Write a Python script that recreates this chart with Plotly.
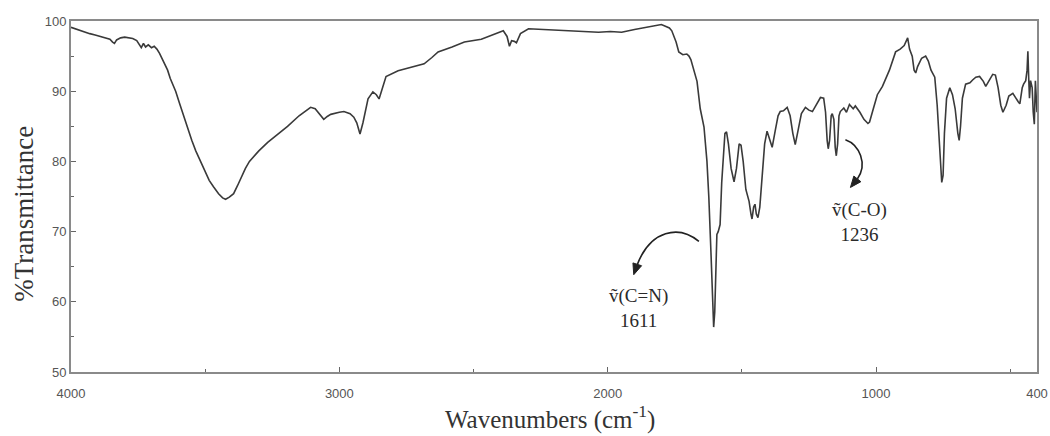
import plotly.graph_objects as go

# ---- data ----
wavenumber = [
    4000, 3985, 3970, 3950, 3930, 3910, 3890, 3870, 3855, 3845, 3838, 3830, 3815, 3800,
    3785, 3770, 3755, 3745, 3738, 3730, 3722, 3712, 3700, 3690, 3680, 3670, 3660, 3650,
    3640, 3630, 3620, 3610, 3595, 3580, 3566, 3550, 3535, 3518, 3500, 3485, 3469, 3450,
    3435, 3424, 3410, 3394, 3380, 3365, 3350, 3335, 3320, 3300, 3267, 3230, 3193, 3150,
    3120, 3107, 3090, 3070, 3058, 3045, 3032, 3000, 2983, 2960, 2946, 2935, 2923, 2912,
    2900, 2893, 2875, 2862, 2852, 2840, 2826, 2781, 2730, 2684, 2655, 2632, 2580, 2534,
    2471, 2420, 2389, 2375, 2366, 2358, 2348, 2340, 2325, 2295, 2230, 2161, 2100, 2034,
    1990, 1948, 1900, 1860, 1824, 1800, 1787, 1770, 1761, 1745, 1735, 1720, 1705, 1697,
    1690, 1679, 1667, 1655, 1641, 1630, 1623, 1615, 1611, 1608, 1605, 1601, 1597, 1593,
    1588, 1581, 1575, 1568, 1563, 1557, 1550, 1540, 1529, 1520, 1510, 1503, 1495, 1485,
    1473, 1466, 1462, 1456, 1451, 1446, 1440, 1433, 1425, 1415, 1406, 1396, 1387, 1375,
    1365, 1357, 1345, 1331, 1320, 1310, 1301, 1290, 1278, 1263, 1250, 1237, 1222, 1207,
    1195, 1188, 1182, 1178, 1173, 1167, 1163, 1157, 1152, 1148, 1143, 1138, 1133, 1120,
    1110, 1099, 1085, 1077, 1060, 1045, 1030, 1024, 1010, 995, 976, 950, 927, 910,
    895, 882, 875, 865, 858, 852, 845, 830, 815, 805, 795, 781, 772, 763,
    755, 750, 745, 737, 725, 715, 705, 695, 690, 685, 678, 666, 650, 640,
    628, 614, 600, 591, 578, 565, 555, 545, 535, 527, 515, 505, 490, 480,
    470, 464, 455, 450, 442, 437, 434, 431, 428, 424, 418, 414, 410, 406,
    403, 400,
]
transmittance = [
    99.1, 98.9, 98.7, 98.4, 98.2, 98.0, 97.8, 97.6, 97.4, 97.0, 96.8, 97.3, 97.6, 97.7,
    97.6, 97.5, 97.2, 96.6, 96.2, 96.8, 96.3, 96.6, 96.2, 96.4, 96.0, 95.4, 94.6, 93.6,
    93.0, 91.8, 90.8, 90.0, 88.2, 86.4, 84.9, 83.0, 81.5, 80.0, 78.5, 77.3, 76.4, 75.4,
    74.8, 74.6, 74.9, 75.4, 76.5, 77.8, 79.0, 80.0, 80.7, 81.5, 82.7, 83.8, 85.0, 86.5,
    87.4, 87.7, 87.5, 86.6, 86.0, 86.4, 86.7, 87.0, 87.1, 86.8, 86.3, 85.5, 83.9, 85.5,
    88.0, 88.9, 89.9, 89.5, 88.9, 90.5, 92.1, 92.9, 93.4, 93.9, 94.8, 95.6, 96.3, 97.0,
    97.4, 98.1, 98.6, 97.8, 96.4, 97.2, 97.1, 96.9, 98.2, 98.9, 98.8, 98.7, 98.5, 98.4,
    98.5, 98.4, 98.8, 99.1, 99.4, 99.5, 99.3, 99.0, 98.6, 97.0, 95.6, 95.2, 95.3, 95.0,
    94.5, 93.1, 91.4, 87.5, 84.9, 80.0, 74.9, 67.0, 62.9, 58.0, 56.4, 58.5, 65.0, 69.6,
    70.0, 71.0, 77.0, 82.0, 84.0, 84.2, 82.5, 79.0, 77.1, 79.0, 82.5, 82.3, 80.0, 76.0,
    74.3, 72.5, 71.8, 73.5, 73.9, 72.5, 72.0, 73.5, 78.0, 82.5, 84.3, 83.0, 82.0, 84.5,
    86.5, 87.1, 87.2, 87.7, 86.5, 84.0, 82.4, 84.5, 86.8, 87.7, 87.3, 87.1, 88.0, 89.1,
    89.0, 87.0, 83.0, 81.8, 83.0, 86.5, 86.8, 86.0, 82.0, 80.8, 82.5, 86.5, 87.1, 87.6,
    87.0, 88.1, 87.5, 87.9, 87.0, 86.0, 85.4, 85.6, 87.5, 89.5, 90.7, 93.0, 95.6, 96.0,
    96.5, 97.6, 96.0, 95.0, 93.0, 92.6, 93.5, 94.7, 95.0, 94.3, 93.0, 92.0, 88.0, 82.0,
    77.0, 78.0, 84.0, 89.0, 90.5, 89.5, 87.5, 84.0, 83.0, 85.0, 89.0, 91.0, 91.2, 91.6,
    92.0, 92.1, 91.4, 90.7, 91.5, 92.4, 92.3, 90.5, 88.0, 87.0, 88.0, 89.3, 89.7, 89.0,
    88.5, 88.2, 90.5, 91.0, 91.5, 93.0, 95.7, 92.0, 89.0, 91.5, 90.5, 87.0, 85.3, 91.5,
    88.0, 87.0,
]

x_tick_vals = [4000, 3000, 2000, 1000, 400]
x_tick_text = ["4000", "3000", "2000", "1000", "400"]
x_minor_vals = [3500, 2500, 1500, 500]
y_tick_vals = [50, 60, 70, 80, 90, 100]

peak_labels = ["ṽ(C=N)<br>1611", "ṽ(C-O)<br>1236"]

AXIS_COLOR = "#8a8a8a"
TICKFONT = dict(family="Liberation Sans, Arial, sans-serif", size=13, color="#555555")
SERIF = "Liberation Serif, Times New Roman, serif"
ARROW_COLOR = "#222222"

fig = go.Figure()
fig.add_trace(go.Scatter(
    x=wavenumber, y=transmittance, mode="lines",
    line=dict(color="#3a3a3a", width=1.6), showlegend=False, hoverinfo="x+y",
))

fig.update_xaxes(
    range=[4000, 400], autorange=False, automargin=False,
    tickmode="array", tickvals=x_tick_vals, ticktext=x_tick_text,
    ticks="inside", ticklen=5, tickcolor="#666", tickwidth=1,
    minor=dict(tickmode="array", tickvals=x_minor_vals, ticks="inside", ticklen=3, tickcolor="#666"),
    showline=True, linecolor=AXIS_COLOR, linewidth=2, mirror=True,
    showgrid=False, zeroline=False, tickfont=TICKFONT, ticklabelstandoff=8,
)
fig.update_yaxes(
    range=[50, 100], autorange=False, automargin=False,
    tickmode="array", tickvals=y_tick_vals,
    ticks="inside", ticklen=5, tickcolor="#666", tickwidth=1,
    minor=dict(dtick=5, tick0=50, ticks="inside", ticklen=3, tickcolor="#666"),
    showline=True, linecolor=AXIS_COLOR, linewidth=2, mirror=True,
    showgrid=False, zeroline=False, tickfont=TICKFONT,
)

# curved arrows: bodies and filled heads as paths in data coordinates
fig.add_shape(type="path", xref="x", yref="y",
              path="M 1660,68.6 C 1735,71.0 1840,70.2 1889.7,65.3",
              line=dict(color=ARROW_COLOR, width=1.6))
fig.add_shape(type="path", xref="x", yref="y",
              path="M 1902.8,63.86 L 1873.6,65.14 L 1905.8,65.54 Z",
              line=dict(color=ARROW_COLOR, width=1), fillcolor=ARROW_COLOR)
fig.add_shape(type="path", xref="x", yref="y",
              path="M 1114,83.1 C 1062,82.4 1030,79.6 1069.5,77.5",
              line=dict(color=ARROW_COLOR, width=1.6))
fig.add_shape(type="path", xref="x", yref="y",
              path="M 1095.3,76.29 L 1056.4,77.11 L 1082.6,77.91 Z",
              line=dict(color=ARROW_COLOR, width=1), fillcolor=ARROW_COLOR)

annotations = [
    # peak labels
    dict(x=1885, y=59.1, xref="x", yref="y", text=peak_labels[0], showarrow=False,
         font=dict(family=SERIF, size=19, color="#2a2a2a"), align="center"),
    dict(x=1061, y=71.3, xref="x", yref="y", text=peak_labels[1], showarrow=False,
         font=dict(family=SERIF, size=19, color="#2a2a2a"), align="center"),
    # axis titles
    dict(x=0.496, y=-0.13, xref="paper", yref="paper", text="Wavenumbers (cm<sup>-1</sup>)",
         showarrow=False, font=dict(family=SERIF, size=25, color="#333"),
         xanchor="center", yanchor="middle"),
    dict(x=-0.049, y=0.45, xref="paper", yref="paper", text="%Transmittance",
         showarrow=False, textangle=-90, font=dict(family=SERIF, size=27, color="#333"),
         xanchor="center", yanchor="middle"),
]

fig.update_layout(
    width=1050, height=436,
    margin=dict(l=71, r=13, t=21, b=64),
    paper_bgcolor="white", plot_bgcolor="white",
    annotations=annotations,
)

fig.write_html("out.html")
